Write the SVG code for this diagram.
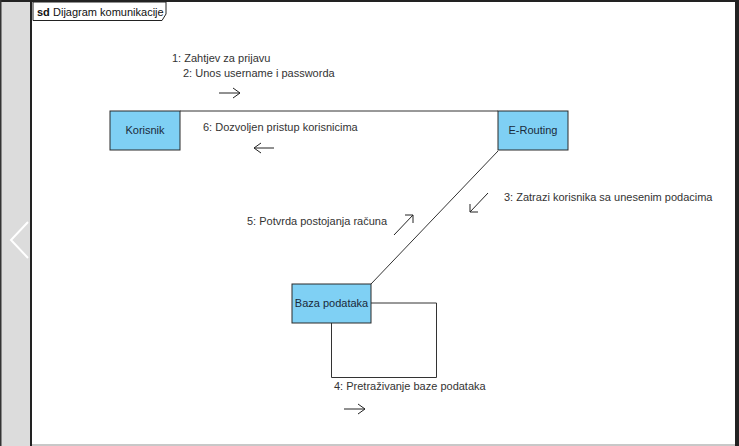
<svg xmlns="http://www.w3.org/2000/svg" width="739" height="446" viewBox="0 0 739 446">
<style>
text{font-family:"Liberation Sans",Arial,sans-serif;font-size:11px;fill:#333}
.node rect{fill:#7fd0f4;stroke:#2a2a2a;stroke-width:1}
.node text{text-anchor:middle;fill:#1a2a3a}
.conn{fill:none;stroke:#333;stroke-width:1}
.arr{fill:none;stroke:#222;stroke-width:1}
</style>
<rect x="0" y="0" width="739" height="446" fill="#ffffff"/>
<rect x="0" y="0" width="31" height="446" fill="#dcdcdc"/>
<rect x="0" y="0" width="739" height="2" fill="#222"/>
<rect x="0" y="0" width="1.5" height="446" fill="#333"/>
<rect x="30" y="0" width="2" height="446" fill="#222"/>
<rect x="735" y="0" width="4" height="446" fill="#222"/>
<rect x="32" y="444" width="703" height="2" fill="#c8c8c8"/>
<polyline points="28,222 11,240 28,258" fill="none" stroke="#ffffff" stroke-width="2"/>

<g id="frame">
<path d="M33,2 H166 V14 L162,20.5 H33 Z" fill="#fff" stroke="#222" stroke-width="1"/>
<text x="37" y="16" style="font-weight:bold;fill:#111">sd</text>
<text x="53" y="16" style="fill:#111">Dijagram komunikacije</text>
</g>

<g id="connectors">
<line class="conn" x1="180" y1="111" x2="498" y2="111"/>
<line class="conn" x1="498" y1="151" x2="371" y2="284" stroke="#555"/>
<polyline class="conn" points="371,303 436.5,303 436.5,377.5 331.5,377.5 331.5,323"/>
</g>

<g id="labels">
<text x="172" y="62">1: Zahtjev za prijavu</text>
<text x="183" y="77">2: Unos username i passworda</text>
<path class="arr" d="M219,93 H240 M233,88 L240,93 L233,98"/>
<text x="203" y="131">6: Dozvoljen pristup korisnicima</text>
<path class="arr" d="M274,148 H254 M261,143 L254,148 L261,153"/>
<text x="504" y="201">3: Zatrazi korisnika sa unesenim podacima</text>
<path class="arr" d="M488,193 L470,212 M470,204 L470,212 L478,212"/>
<text x="247" y="225">5: Potvrda postojanja računa</text>
<path class="arr" d="M394,235 L413,215 M405,215 L413,215 L413,223"/>
<text x="334" y="390">4: Pretraživanje baze podataka</text>
<path class="arr" d="M344,409 H365 M358,404 L365,409 L358,414"/>
</g>

<g id="node-korisnik" class="node">
<rect x="110" y="111" width="70" height="39"/>
<text x="145" y="134">Korisnik</text>
</g>
<g id="node-erouting" class="node">
<rect x="498" y="111" width="70" height="39"/>
<text x="533" y="134">E-Routing</text>
</g>
<g id="node-baza" class="node">
<rect x="292" y="284" width="79" height="39"/>
<text x="331.5" y="307">Baza podataka</text>
</g>
</svg>
